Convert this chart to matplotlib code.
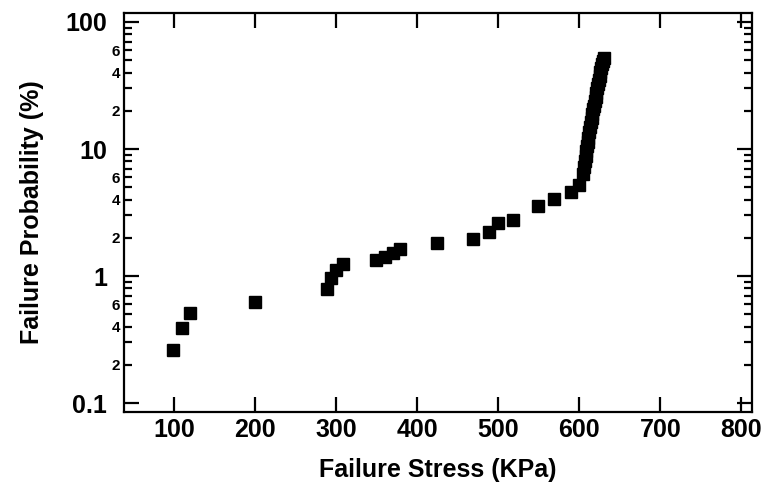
import matplotlib
matplotlib.use("Agg")
import matplotlib.pyplot as plt
from matplotlib.ticker import FixedLocator, FixedFormatter, NullFormatter

# Failure stress (KPa) and failure probability (%)
stress = [99, 110, 119.5, 200, 289, 294, 300, 308, 349, 360, 370, 378,
          424, 469, 489, 500, 518, 549, 569, 590, 600, 604,
          606, 607, 608, 608.5, 609, 610, 611, 612, 613, 614, 615, 616,
          617, 618, 619, 620, 621, 622, 623, 624, 625, 626, 627, 628, 629, 630]
prob = [0.26, 0.39, 0.51, 0.62, 0.79, 0.96, 1.11, 1.24, 1.34, 1.42, 1.51, 1.62,
        1.83, 1.95, 2.23, 2.6, 2.76, 3.58, 4.02, 4.61, 5.21, 6.3,
        7.2, 8.0, 8.8, 9.6, 10.5, 11.3, 12.3, 13.5, 14.8, 16.2, 17.6, 19.0,
        20.5, 22.0, 23.8, 25.7, 27.8, 30.0, 32.4, 35.0, 37.8, 40.6, 43.5, 46.5, 49.5, 52.0]

x_ticks = [100, 200, 300, 400, 500, 600, 700, 800]
y_major = [0.1, 1, 10, 100]
y_major_labels = ["0.1", "1", "10", "100"]
minor_digits = [2, 3, 4, 5, 6, 7, 8, 9]
minor_labeled = {2: "2", 4: "4", 6: "6"}

plt.rcParams['font.family'] = ['Liberation Sans', 'DejaVu Sans']
plt.rcParams['font.weight'] = 'bold'

fig = plt.figure(figsize=(7.68, 4.88), dpi=100)
ax = fig.add_axes([124/768, 1 - 412/488, 628/768, 399/488])

ax.plot(stress, prob, linestyle='none', marker='s', markersize=8.6,
        color='black', markeredgecolor='black')

ax.set_yscale('log')
ax.set_xlim(38, 813)
ax.set_ylim(0.085, 117.7)

ax.xaxis.set_major_locator(FixedLocator(x_ticks))
ax.set_xticklabels([str(v) for v in x_ticks])

ax.yaxis.set_major_locator(FixedLocator(y_major))
ax.yaxis.set_major_formatter(FixedFormatter(y_major_labels))
minor_pos = []
minor_lab = []
for dec in [0.1, 1, 10]:
    for d in minor_digits:
        minor_pos.append(d * dec)
        minor_lab.append(minor_labeled.get(d, ""))
ax.yaxis.set_minor_locator(FixedLocator(minor_pos))
ax.yaxis.set_minor_formatter(FixedFormatter(minor_lab))
ax.xaxis.set_minor_formatter(NullFormatter())

for s in ax.spines.values():
    s.set_linewidth(1.6)

ax.tick_params(axis='both', which='major', direction='in', length=11, width=1.6,
               top=True, right=True, labelsize=18)
ax.tick_params(axis='x', which='major', pad=4)
ax.tick_params(axis='y', which='major', pad=12)
ax.tick_params(axis='y', which='minor', direction='in', length=6, width=1.6,
               right=True, labelsize=11, pad=3)

for lab in ax.get_xticklabels() + ax.get_yticklabels() + ax.get_yticklabels(minor=True):
    lab.set_fontweight('bold')

ax.set_xlabel("Failure Stress (KPa)", fontsize=18, fontweight='bold', labelpad=12)
ax.set_ylabel("Failure Probability (%)", fontsize=18, fontweight='bold')
ax.yaxis.set_label_coords(-0.128, 0.5)

fig.savefig("out.png", dpi=100)
